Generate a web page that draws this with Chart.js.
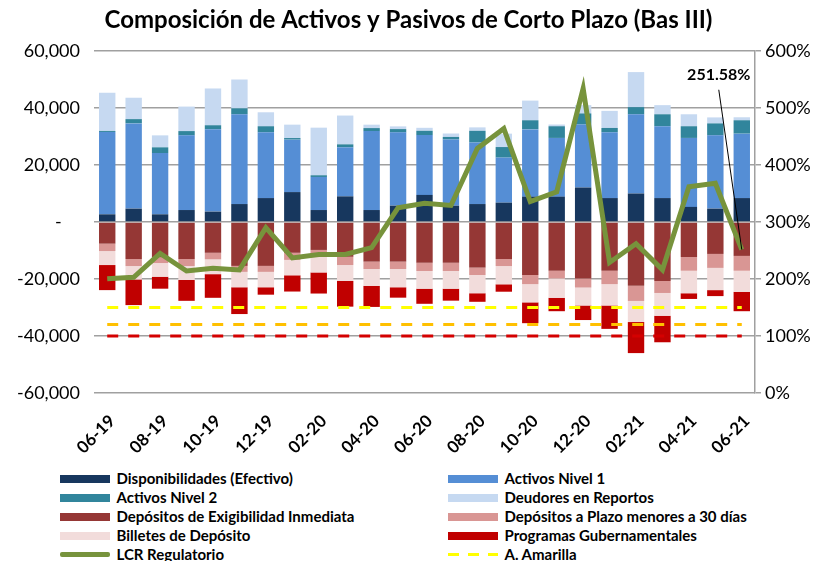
<!DOCTYPE html>
<html><head><meta charset="utf-8">
<script src="https://cdn.jsdelivr.net/npm/chart.js@4.4.1/dist/chart.umd.min.js"></script>
<style>
html,body{margin:0;padding:0;background:#fff;}
#wrap{position:relative;width:817px;height:561px;overflow:hidden;font-family:Lato,sans-serif;}
#c{position:absolute;left:0;top:0;}
.lg{position:absolute;font:bold 15px Lato,sans-serif;color:#000;white-space:nowrap;height:19px;line-height:19px;}
.sw{position:absolute;left:0;top:6px;width:50px;height:8px;}
.ln{position:absolute;left:0;top:8px;width:50px;height:0;}
.tx{position:absolute;left:56.5px;top:0;}
</style></head>
<body><div id="wrap"><canvas id="c" width="817" height="460"></canvas><div id="legend"></div></div>
<script>
const categories = ['06-19','07-19','08-19','09-19','10-19','11-19','12-19','01-20','02-20','03-20','04-20','05-20','06-20','07-20','08-20','09-20','10-20','11-20','12-20','01-21','02-21','03-21','04-21','05-21','06-21'];

const disponibilidades = [2700,4700,2700,4200,3650,6300,8400,10500,4200,9000,4200,5750,9500,5750,6300,6800,8900,8900,12100,8400,10000,8400,5300,4700,8400];
const activosNivel1 = [28900,29900,21500,26200,28900,31500,23100,18400,11600,17200,27700,25700,21000,23200,21600,15800,23600,20600,22100,23100,27800,25200,24200,25700,22600];
const activosNivel2 = [350,1500,2000,1500,1400,2100,2100,560,600,1050,1050,1150,1500,900,4100,3700,3200,4100,3900,1500,2500,4200,4100,4200,4700];
const deudoresReportos = [13400,7500,4200,8600,12900,10100,4900,4700,16700,10100,1200,950,1050,1200,1200,4700,6900,600,2900,6000,12300,3200,4200,2100,1050];

const depExigibilidad = [-7600,-13000,-12400,-13000,-10800,-15400,-15400,-10800,-9800,-12200,-13900,-13900,-14300,-14300,-16000,-13000,-18600,-17100,-19800,-17100,-22400,-20700,-12300,-11200,-11900];
const depPlazo = [-2600,-2460,-2000,-2460,-2300,-2100,-2100,-2500,-1200,-2900,-2600,-2600,-2900,-2900,-2600,-2460,-3200,-2700,-3200,-4700,-5300,-4200,-4800,-4900,-5200];
const billetesDeposito = [-4900,-4700,-4800,-4900,-5200,-5400,-5400,-5400,-6700,-5600,-5900,-6400,-6200,-6200,-6400,-6400,-6400,-6800,-6300,-7500,-7400,-8000,-7900,-7800,-7400];
const programasGub = [-8800,-9000,-4200,-7300,-8300,-9400,-2600,-5700,-7400,-9000,-7400,-3650,-5300,-4200,-3000,-2600,-7300,-4700,-5100,-8200,-10900,-9300,-2000,-2100,-6800];

const lcrRegulatorio = [200.5,203,245,214,219,216,290,237,243,243,255,325,333,329,429,464,336,353,534,229,262,216,362,368,251.58];
const alertaAmarilla = [150,150,150,150,150,150,150,150,150,150,150,150,150,150,150,150,150,150,150,150,150,150,150,150,150];
const alertaNaranja = [120,120,120,120,120,120,120,120,120,120,120,120,120,120,120,120,120,120,120,120,120,120,120,120,120];
const alertaRoja = [100,100,100,100,100,100,100,100,100,100,100,100,100,100,100,100,100,100,100,100,100,100,100,100,100];

const leftTicks = [-60000,-40000,-20000,0,20000,40000,60000];
const rightTicks = [0,100,200,300,400,500,600];

const FONT = 'Lato';

function bar(label, data, color){
  return {type:'bar', label, data, backgroundColor:color, borderWidth:0, yAxisID:'y', stack:'s', order:2,
          barPercentage:0.62, categoryPercentage:1};
}
function line(label, data, color, width, dash, order){
  return {type:'line', label, data, borderColor:color, backgroundColor:color, borderWidth:width, borderDash:dash,
          pointRadius:0, pointHoverRadius:0, tension:0, fill:false, yAxisID:'y1', order, borderJoinStyle:'miter', borderCapStyle:'butt'};
}

const datasets = [
  bar('Disponibilidades (Efectivo)', disponibilidades, '#17375E'),
  bar('Activos Nivel 1', activosNivel1, '#558ED5'),
  bar('Activos Nivel 2', activosNivel2, '#31859C'),
  bar('Deudores en Reportos', deudoresReportos, '#C6D9F1'),
  bar('Depósitos de Exigibilidad Inmediata', depExigibilidad, '#953735'),
  bar('Depósitos a Plazo menores a 30 días', depPlazo, '#D99694'),
  bar('Billetes de Depósito', billetesDeposito, '#F2DCDB'),
  bar('Programas Gubernamentales', programasGub, '#C00000'),
  line('LCR Regulatorio', lcrRegulatorio, '#77933C', 5, [], 0),
  line('A. Amarilla', alertaAmarilla, '#FFFF00', 3, [11,10], 1),
  line('A. Naranja', alertaNaranja, '#FFC000', 3, [11,10], 1),
  line('A. Roja', alertaRoja, '#D40000', 3, [11,10], 1)
];

const annot = {
  id:'annot',
  afterDatasetsDraw(chart){
    const idx = 8;
    const meta = chart.getDatasetMeta(idx);
    const pt = meta.data[meta.data.length-1];
    const y1 = chart.scales.y1;
    const ctx = chart.ctx;
    const lx = pt.x - 23;
    const ty = y1.getPixelForValue(558);
    const ly = y1.getPixelForValue(532);
    ctx.save();
    ctx.strokeStyle = '#000'; ctx.lineWidth = 1;
    ctx.beginPath(); ctx.moveTo(lx, ly); ctx.lineTo(pt.x, pt.y); ctx.stroke();
    ctx.fillStyle = '#000';
    ctx.font = 'bold 16px ' + FONT;
    ctx.textAlign = 'center'; ctx.textBaseline = 'middle';
    ctx.fillText(lcrRegulatorio[lcrRegulatorio.length-1].toFixed(2) + '%', lx, ty);
    ctx.restore();
  }
};

const chart = new Chart(document.getElementById('c'), {
  data:{labels:categories, datasets},
  options:{
    responsive:false, devicePixelRatio:1, animation:false,
    layout:{padding:{left:0,right:0,top:0,bottom:0}},
    plugins:{
      legend:{display:false}, tooltip:{enabled:false},
      title:{display:true, text:'Composición de Activos y Pasivos de Corto Plazo (Bas III)', color:'#000',
             font:{family:FONT, size:24, weight:'bold'}, padding:{top:6, bottom:16.2}}
    },
    scales:{
      x:{stacked:true, grid:{display:false}, border:{display:false},
         ticks:{autoSkip:false, maxRotation:45, minRotation:45, color:'#000', padding:10, labelOffset:5,
                font:{family:FONT, size:17, weight:'bold'},
                callback:(v,i)=> i%2===0 ? categories[i] : ''},
         afterFit:s=>{s.height = 67;}},
      y:{stacked:true, position:'left', min:-60000, max:60000,
         afterBuildTicks:s=>{s.ticks = leftTicks.map(v=>({value:v}));},
         grid:{color:'#A0A0A0', lineWidth:1.5, drawTicks:false}, border:{display:false},
         ticks:{color:'#000', padding:14, font:{family:FONT, size:18},
                callback:v=> v===0 ? '-    ' : v.toLocaleString('en-US')},
         afterFit:s=>{s.width = 94;}},
      y1:{position:'right', min:0, max:600,
          afterBuildTicks:s=>{s.ticks = rightTicks.map(v=>({value:v}));},
          grid:{drawOnChartArea:false, drawTicks:true, tickLength:6, color:'#A0A0A0', lineWidth:1.5},
          border:{display:true, color:'#A0A0A0', width:1.5},
          ticks:{color:'#000', padding:4, font:{family:FONT, size:18}, callback:v=> v + '%'},
          afterFit:s=>{s.width = 62;}}
    }
  },
  plugins:[annot]
});

// HTML legend, two columns, built from chart datasets
const lg = document.getElementById('legend');
chart.data.datasets.forEach((ds,k)=>{
  const col = k % 2, row = Math.floor(k/2);
  const d = document.createElement('div');
  d.className = 'lg';
  d.style.left = (col===0 ? 60 : 448) + 'px';
  d.style.top = (468.8 + row*19) + 'px';
  const sw = document.createElement('div');
  if (ds.type === 'bar') {
    sw.className = 'sw'; sw.style.background = ds.backgroundColor;
  } else {
    sw.className = 'ln';
    const w = ds.borderWidth;
    sw.style.top = (9.5 - w/2) + 'px';
    sw.style.height = w + 'px';
    if (ds.borderDash && ds.borderDash.length) {
      sw.style.background = `repeating-linear-gradient(90deg, ${ds.borderColor} 0 11px, transparent 11px 20px)`;
    } else {
      sw.style.background = ds.borderColor; sw.style.borderRadius = '2px';
    }
  }
  const t = document.createElement('div');
  t.className = 'tx'; t.textContent = ds.label;
  d.appendChild(sw); d.appendChild(t);
  lg.appendChild(d);
});
</script>
</body></html>
